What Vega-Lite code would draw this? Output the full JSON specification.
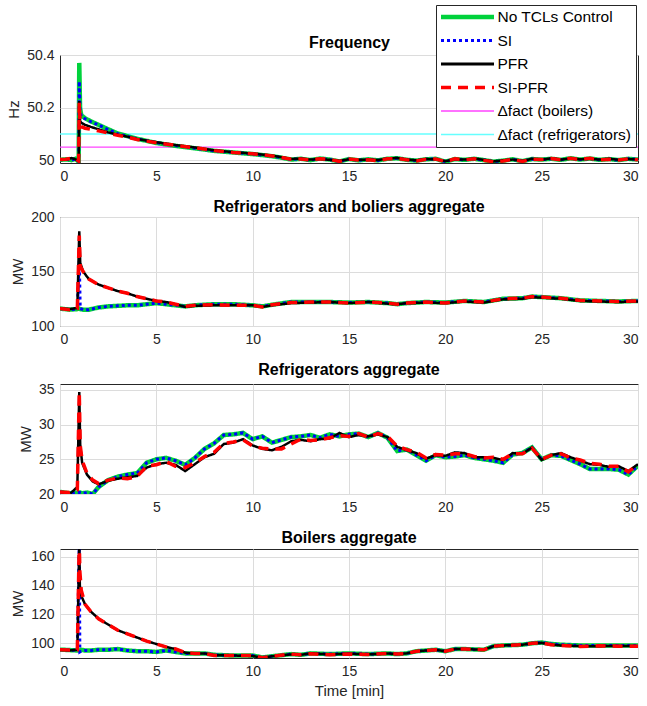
{
"$schema": "https://vega.github.io/schema/vega-lite/v6.json",
"padding": {"left": 6, "top": 4, "right": 2, "bottom": 4},
"background": "white",
"config": {
  "font": "Liberation Sans",
  "view": {"stroke": "#262626", "strokeWidth": 1},
  "axis": {"labelFontSize": 14, "labelColor": "#262626", "titleFontSize": 15, "titleFontWeight": "normal", "titleColor": "#262626", "gridColor": "#dcdcdc", "domain": false, "ticks": false, "labelPadding": 6, "titlePadding": 5, "labelFont": "Liberation Sans", "titleFont": "Liberation Sans"},
  "title": {"fontSize": 16, "fontWeight": "bold", "color": "#000", "font": "Liberation Sans"},
  "concat": {"spacing": 14}
},
"datasets": {
"d": [
{"p":1,"t":0,"g":50.002,"b":50.002,"k":50.004,"r":50.003},
{"p":1,"t":0.3,"g":50.004,"b":50.004,"k":50.003,"r":50.004},
{"p":1,"t":0.6,"g":50.001,"b":50.001,"k":50.009,"r":50.008},
{"p":1,"t":0.8,"g":50.006,"b":50.006,"k":50.004,"r":50.006},
{"p":1,"t":0.97,"g":49.995,"b":49.996,"k":49.997,"r":49.997},
{"p":1,"t":1.0,"g":50.37,"b":50.3,"k":50.225,"r":50.22},
{"p":1,"t":1.04,"g":50.2,"b":50.19,"k":50.15,"r":50.135},
{"p":1,"t":1.1,"g":50.172,"b":50.168,"k":50.143,"r":50.128},
{"p":1,"t":1.3,"g":50.16,"b":50.158,"k":50.135,"r":50.122},
{"p":1,"t":1.6,"g":50.148,"b":50.147,"k":50.127,"r":50.118},
{"p":1,"t":2,"g":50.135,"b":50.134,"k":50.118,"r":50.112},
{"p":1,"t":2.5,"g":50.118,"b":50.117,"k":50.106,"r":50.104},
{"p":1,"t":3,"g":50.102,"b":50.101,"k":50.097,"r":50.095},
{"p":1,"t":3.5,"g":50.092,"b":50.091,"k":50.09,"r":50.088},
{"p":1,"t":4,"g":50.082,"b":50.082,"k":50.081,"r":50.079},
{"p":1,"t":5,"g":50.066,"b":50.067,"k":50.069,"r":50.067},
{"p":1,"t":6,"g":50.055,"b":50.056,"k":50.058,"r":50.057},
{"p":1,"t":7,"g":50.046,"b":50.046,"k":50.049,"r":50.048},
{"p":1,"t":8,"g":50.036,"b":50.036,"k":50.038,"r":50.037},
{"p":1,"t":9,"g":50.03,"b":50.03,"k":50.031,"r":50.03},
{"p":1,"t":10,"g":50.024,"b":50.024,"k":50.026,"r":50.025},
{"p":1,"t":11,"g":50.016,"b":50.016,"k":50.018,"r":50.017},
{"p":1,"t":11.5,"g":50.01,"b":50.01,"k":50.012,"r":50.011},
{"p":1,"t":12,"g":50.003,"b":50.003,"k":50.005,"r":50.004},
{"p":1,"t":12.5,"g":50.006,"b":50.006,"k":50.007,"r":50.005},
{"p":1,"t":13,"g":50.001,"b":50.001,"k":50.003,"r":50.002},
{"p":1,"t":13.5,"g":50.007,"b":50.007,"k":50.005,"r":50.006},
{"p":1,"t":14,"g":50.003,"b":50.003,"k":50.002,"r":50.004},
{"p":1,"t":14.5,"g":49.996,"b":49.996,"k":49.998,"r":49.996},
{"p":1,"t":15,"g":50.005,"b":50.005,"k":50.004,"r":50.005},
{"p":1,"t":15.5,"g":50.0,"b":50.0,"k":50.002,"r":50.001},
{"p":1,"t":16,"g":50.004,"b":50.004,"k":50.003,"r":50.002},
{"p":1,"t":16.5,"g":50.0,"b":50.0,"k":50.001,"r":49.999},
{"p":1,"t":17,"g":50.006,"b":50.006,"k":50.007,"r":50.006},
{"p":1,"t":17.5,"g":50.008,"b":50.008,"k":50.009,"r":50.007},
{"p":1,"t":18,"g":50.002,"b":50.002,"k":50.003,"r":50.002},
{"p":1,"t":18.5,"g":49.999,"b":49.999,"k":50.0,"r":49.998},
{"p":1,"t":19,"g":50.004,"b":50.004,"k":50.005,"r":50.004},
{"p":1,"t":19.5,"g":50.006,"b":50.006,"k":50.004,"r":50.005},
{"p":1,"t":20,"g":49.995,"b":49.995,"k":49.997,"r":49.996},
{"p":1,"t":20.5,"g":50.005,"b":50.005,"k":50.004,"r":50.006},
{"p":1,"t":21,"g":50.002,"b":50.002,"k":50.003,"r":50.002},
{"p":1,"t":21.5,"g":50.006,"b":50.006,"k":50.007,"r":50.006},
{"p":1,"t":22,"g":50.001,"b":50.001,"k":50.002,"r":50.0},
{"p":1,"t":22.5,"g":49.995,"b":49.995,"k":49.996,"r":49.995},
{"p":1,"t":23,"g":49.999,"b":49.999,"k":50.0,"r":49.998},
{"p":1,"t":23.5,"g":50.004,"b":50.004,"k":50.003,"r":50.004},
{"p":1,"t":24,"g":49.997,"b":49.997,"k":49.998,"r":49.996},
{"p":1,"t":24.5,"g":50.005,"b":50.005,"k":50.006,"r":50.005},
{"p":1,"t":25,"g":50.003,"b":50.003,"k":50.002,"r":50.003},
{"p":1,"t":25.5,"g":50.006,"b":50.006,"k":50.008,"r":50.007},
{"p":1,"t":26,"g":50.002,"b":50.002,"k":50.003,"r":50.002},
{"p":1,"t":26.5,"g":50.008,"b":50.008,"k":50.007,"r":50.008},
{"p":1,"t":27,"g":50.003,"b":50.003,"k":50.004,"r":50.003},
{"p":1,"t":27.5,"g":50.007,"b":50.007,"k":50.006,"r":50.008},
{"p":1,"t":28,"g":50.002,"b":50.002,"k":50.003,"r":50.002},
{"p":1,"t":28.5,"g":50.005,"b":50.005,"k":50.006,"r":50.004},
{"p":1,"t":29,"g":50.001,"b":50.001,"k":50.002,"r":50.001},
{"p":1,"t":29.5,"g":50.006,"b":50.006,"k":50.005,"r":50.006},
{"p":1,"t":30,"g":50.003,"b":50.003,"k":50.003,"r":50.002},

{"p":2,"t":0,"g":116,"b":116,"k":116,"r":116},
{"p":2,"t":0.5,"g":115,"b":115,"k":115.5,"r":115},
{"p":2,"t":0.9,"g":115.5,"b":115.5,"k":116.5,"r":116},
{"p":2,"t":1.0,"g":116,"b":160,"k":187,"r":183},
{"p":2,"t":1.05,"g":115.5,"b":116,"k":158,"r":155},
{"p":2,"t":1.2,"g":115,"b":115,"k":150,"r":150},
{"p":2,"t":1.5,"g":115,"b":115,"k":143,"r":143},
{"p":2,"t":2,"g":117,"b":117,"k":138,"r":138},
{"p":2,"t":2.5,"g":118,"b":118,"k":135,"r":135},
{"p":2,"t":3,"g":118.5,"b":118.5,"k":132,"r":132},
{"p":2,"t":3.5,"g":119,"b":119,"k":130,"r":130},
{"p":2,"t":4,"g":119,"b":119,"k":127,"r":127},
{"p":2,"t":4.5,"g":120,"b":120,"k":125,"r":125},
{"p":2,"t":5,"g":121,"b":121,"k":123,"r":123},
{"p":2,"t":5.5,"g":120,"b":120,"k":122,"r":122},
{"p":2,"t":6,"g":119,"b":119,"k":120,"r":120},
{"p":2,"t":6.5,"g":118,"b":118,"k":117.5,"r":118},
{"p":2,"t":7,"g":119,"b":119,"k":118.5,"r":119},
{"p":2,"t":8,"g":120,"b":120,"k":119,"r":119.5},
{"p":2,"t":9,"g":120,"b":120,"k":119,"r":119},
{"p":2,"t":10,"g":119,"b":119,"k":119,"r":119},
{"p":2,"t":10.5,"g":118,"b":118,"k":117.5,"r":117.5},
{"p":2,"t":11,"g":119.5,"b":119.5,"k":119,"r":119.5},
{"p":2,"t":12,"g":122,"b":122,"k":121,"r":121.5},
{"p":2,"t":13,"g":122,"b":122,"k":121.5,"r":122},
{"p":2,"t":14,"g":122,"b":122,"k":122,"r":122},
{"p":2,"t":15,"g":121.5,"b":121.5,"k":121,"r":121},
{"p":2,"t":16,"g":122,"b":122,"k":122,"r":122},
{"p":2,"t":17,"g":121,"b":121,"k":120.5,"r":121},
{"p":2,"t":17.5,"g":120,"b":120,"k":120,"r":120},
{"p":2,"t":18,"g":121,"b":121,"k":121,"r":121},
{"p":2,"t":19,"g":122,"b":122,"k":121.5,"r":122},
{"p":2,"t":20,"g":121.5,"b":121.5,"k":121,"r":121},
{"p":2,"t":21,"g":123,"b":123,"k":122.5,"r":123},
{"p":2,"t":22,"g":122,"b":122,"k":121.5,"r":122},
{"p":2,"t":23,"g":125,"b":125,"k":124.5,"r":125},
{"p":2,"t":24,"g":125.5,"b":125.5,"k":125,"r":125.5},
{"p":2,"t":24.5,"g":127,"b":127,"k":126.5,"r":127},
{"p":2,"t":25,"g":126.5,"b":126.5,"k":126,"r":126.5},
{"p":2,"t":26,"g":125.5,"b":125.5,"k":125,"r":125.5},
{"p":2,"t":27,"g":123.5,"b":123.5,"k":123,"r":123.5},
{"p":2,"t":28,"g":123,"b":123,"k":122.5,"r":123},
{"p":2,"t":29,"g":122.5,"b":122.5,"k":122,"r":122.5},
{"p":2,"t":30,"g":123,"b":123,"k":122.5,"r":123},

{"p":3,"t":0,"g":20.3,"b":20.3,"k":20.3,"r":20.3},
{"p":3,"t":0.5,"g":20.1,"b":20.1,"k":20.0,"r":20.2},
{"p":3,"t":0.9,"g":20.2,"b":20.2,"k":21.0,"r":20.6},
{"p":3,"t":1.0,"g":20.2,"b":20.2,"k":34.7,"r":34.7},
{"p":3,"t":1.05,"g":20.2,"b":20.2,"k":27,"r":27},
{"p":3,"t":1.15,"g":20.1,"b":20.1,"k":24.5,"r":24.8},
{"p":3,"t":1.4,"g":20.2,"b":20.2,"k":22.8,"r":23.0},
{"p":3,"t":1.7,"g":20.0,"b":20.0,"k":21.8,"r":22.0},
{"p":3,"t":2,"g":21.0,"b":21.0,"k":21.4,"r":21.5},
{"p":3,"t":2.5,"g":22.0,"b":22.0,"k":21.9,"r":22.0},
{"p":3,"t":3,"g":22.5,"b":22.5,"k":22.2,"r":22.3},
{"p":3,"t":3.5,"g":22.8,"b":22.8,"k":22.4,"r":22.2},
{"p":3,"t":4,"g":23.0,"b":23.0,"k":22.6,"r":22.5},
{"p":3,"t":4.5,"g":24.5,"b":24.5,"k":23.8,"r":24.0},
{"p":3,"t":5,"g":25.0,"b":25.0,"k":24.3,"r":24.2},
{"p":3,"t":5.5,"g":25.2,"b":25.2,"k":24.5,"r":24.7},
{"p":3,"t":6,"g":24.8,"b":24.8,"k":24.2,"r":24.0},
{"p":3,"t":6.5,"g":24.2,"b":24.2,"k":23.3,"r":23.8},
{"p":3,"t":7,"g":25.2,"b":25.2,"k":24.3,"r":24.5},
{"p":3,"t":7.5,"g":26.5,"b":26.5,"k":25.3,"r":25.4},
{"p":3,"t":8,"g":27.3,"b":27.3,"k":25.8,"r":26.0},
{"p":3,"t":8.5,"g":28.5,"b":28.5,"k":27.2,"r":27.3},
{"p":3,"t":9,"g":28.6,"b":28.6,"k":27.4,"r":27.5},
{"p":3,"t":9.5,"g":28.8,"b":28.8,"k":27.9,"r":27.8},
{"p":3,"t":10,"g":27.9,"b":27.9,"k":27.0,"r":26.9},
{"p":3,"t":10.5,"g":28.3,"b":28.3,"k":26.5,"r":26.6},
{"p":3,"t":11,"g":27.4,"b":27.4,"k":26.3,"r":26.5},
{"p":3,"t":11.5,"g":27.8,"b":27.8,"k":26.8,"r":26.5},
{"p":3,"t":12,"g":28.2,"b":28.2,"k":27.6,"r":27.2},
{"p":3,"t":12.5,"g":28.3,"b":28.3,"k":27.8,"r":27.9},
{"p":3,"t":13,"g":28.5,"b":28.5,"k":27.6,"r":27.7},
{"p":3,"t":13.5,"g":28.1,"b":28.1,"k":27.9,"r":27.8},
{"p":3,"t":14,"g":28.6,"b":28.6,"k":28.0,"r":28.1},
{"p":3,"t":14.5,"g":28.3,"b":28.3,"k":28.8,"r":28.4},
{"p":3,"t":15,"g":28.6,"b":28.6,"k":28.2,"r":28.3},
{"p":3,"t":15.5,"g":28.7,"b":28.7,"k":28.5,"r":28.7},
{"p":3,"t":16,"g":28.2,"b":28.2,"k":28.3,"r":28.2},
{"p":3,"t":16.5,"g":28.8,"b":28.8,"k":28.6,"r":28.7},
{"p":3,"t":17,"g":28.1,"b":28.1,"k":28.2,"r":28.3},
{"p":3,"t":17.5,"g":26.2,"b":26.2,"k":26.8,"r":26.9},
{"p":3,"t":18,"g":26.4,"b":26.4,"k":26.3,"r":26.4},
{"p":3,"t":18.5,"g":25.6,"b":25.6,"k":25.9,"r":26.0},
{"p":3,"t":19,"g":24.8,"b":24.8,"k":25.1,"r":25.2},
{"p":3,"t":19.5,"g":25.6,"b":25.6,"k":25.6,"r":25.7},
{"p":3,"t":20,"g":25.3,"b":25.3,"k":25.5,"r":25.6},
{"p":3,"t":20.5,"g":25.4,"b":25.4,"k":26.0,"r":25.8},
{"p":3,"t":21,"g":25.6,"b":25.6,"k":25.9,"r":25.8},
{"p":3,"t":21.5,"g":25.2,"b":25.2,"k":25.3,"r":25.4},
{"p":3,"t":22,"g":25.0,"b":25.0,"k":25.3,"r":25.2},
{"p":3,"t":22.5,"g":24.8,"b":24.8,"k":25.2,"r":25.3},
{"p":3,"t":23,"g":24.5,"b":24.5,"k":24.9,"r":25.0},
{"p":3,"t":23.5,"g":25.7,"b":25.7,"k":25.9,"r":25.8},
{"p":3,"t":24,"g":25.9,"b":25.9,"k":25.8,"r":25.8},
{"p":3,"t":24.5,"g":26.7,"b":26.7,"k":26.7,"r":26.6},
{"p":3,"t":25,"g":25.0,"b":25.0,"k":24.9,"r":25.0},
{"p":3,"t":25.5,"g":25.6,"b":25.6,"k":25.6,"r":25.6},
{"p":3,"t":26,"g":25.5,"b":25.5,"k":25.9,"r":25.8},
{"p":3,"t":26.5,"g":24.9,"b":24.9,"k":25.3,"r":25.2},
{"p":3,"t":27,"g":24.3,"b":24.3,"k":24.8,"r":24.9},
{"p":3,"t":27.5,"g":23.6,"b":23.6,"k":24.3,"r":24.4},
{"p":3,"t":28,"g":23.6,"b":23.6,"k":24.2,"r":24.3},
{"p":3,"t":28.5,"g":23.6,"b":23.6,"k":23.9,"r":24.0},
{"p":3,"t":29,"g":23.5,"b":23.5,"k":24.0,"r":24.0},
{"p":3,"t":29.5,"g":22.8,"b":22.8,"k":23.3,"r":23.2},
{"p":3,"t":30,"g":24.1,"b":24.1,"k":24.3,"r":24.3},

{"p":4,"t":0,"g":95.6,"b":95.6,"k":95.6,"r":95.6},
{"p":4,"t":0.5,"g":95.3,"b":95.3,"k":95,"r":95.3},
{"p":4,"t":0.9,"g":95,"b":95,"k":95.5,"r":95.5},
{"p":4,"t":1.0,"g":95,"b":170,"k":170,"r":170},
{"p":4,"t":1.03,"g":95,"b":94,"k":140,"r":150},
{"p":4,"t":1.1,"g":95.5,"b":94.5,"k":133,"r":137},
{"p":4,"t":1.3,"g":95,"b":95,"k":127,"r":127},
{"p":4,"t":1.6,"g":95,"b":95,"k":122,"r":122},
{"p":4,"t":2,"g":95.5,"b":95.5,"k":117,"r":117},
{"p":4,"t":2.5,"g":95.5,"b":95.5,"k":113,"r":113},
{"p":4,"t":3,"g":96,"b":96,"k":109,"r":109},
{"p":4,"t":3.5,"g":95,"b":95,"k":106.5,"r":106.5},
{"p":4,"t":4,"g":94.5,"b":94.5,"k":104,"r":104},
{"p":4,"t":4.5,"g":94.5,"b":94.5,"k":101.5,"r":101.5},
{"p":4,"t":5,"g":94,"b":94,"k":99.5,"r":99.5},
{"p":4,"t":5.5,"g":95,"b":95,"k":97.5,"r":97.5},
{"p":4,"t":6,"g":94,"b":94,"k":96,"r":96},
{"p":4,"t":6.5,"g":93,"b":93,"k":93.5,"r":93.5},
{"p":4,"t":7,"g":93,"b":93,"k":92.8,"r":93},
{"p":4,"t":7.5,"g":93,"b":93,"k":93,"r":93},
{"p":4,"t":8,"g":92,"b":92,"k":91.8,"r":91.5},
{"p":4,"t":9,"g":91.5,"b":91.5,"k":91.5,"r":91.5},
{"p":4,"t":10,"g":91.5,"b":91.5,"k":91.2,"r":91.5},
{"p":4,"t":10.5,"g":90.2,"b":90.2,"k":90,"r":90},
{"p":4,"t":11,"g":91,"b":91,"k":91,"r":91},
{"p":4,"t":12,"g":92.5,"b":92.5,"k":92.3,"r":92.5},
{"p":4,"t":12.5,"g":92,"b":92,"k":92,"r":92},
{"p":4,"t":13,"g":93,"b":93,"k":93,"r":92.8},
{"p":4,"t":14,"g":92.5,"b":92.5,"k":92.3,"r":92},
{"p":4,"t":15,"g":93,"b":93,"k":92.8,"r":92.5},
{"p":4,"t":16,"g":92.5,"b":92.5,"k":92.3,"r":92.3},
{"p":4,"t":17,"g":93,"b":93,"k":93,"r":93},
{"p":4,"t":17.5,"g":92.5,"b":92.5,"k":92.5,"r":92.5},
{"p":4,"t":18,"g":93,"b":93,"k":93,"r":93},
{"p":4,"t":18.5,"g":94.5,"b":94.5,"k":94.5,"r":94.5},
{"p":4,"t":19,"g":95,"b":95,"k":95,"r":95},
{"p":4,"t":19.5,"g":95.5,"b":95.5,"k":95.5,"r":95.5},
{"p":4,"t":20,"g":94.5,"b":94.5,"k":94.5,"r":94.5},
{"p":4,"t":20.5,"g":96,"b":96,"k":96,"r":96},
{"p":4,"t":21,"g":96,"b":96,"k":96,"r":96},
{"p":4,"t":22,"g":95.5,"b":95.5,"k":95.5,"r":95.5},
{"p":4,"t":22.5,"g":98,"b":98,"k":98,"r":98},
{"p":4,"t":23,"g":98.5,"b":98.5,"k":98.5,"r":98.5},
{"p":4,"t":24,"g":99,"b":99,"k":99,"r":99},
{"p":4,"t":24.5,"g":100,"b":100,"k":100,"r":100},
{"p":4,"t":25,"g":100.5,"b":100.5,"k":100.3,"r":100.3},
{"p":4,"t":25.5,"g":99.5,"b":99.5,"k":99,"r":99},
{"p":4,"t":26,"g":99,"b":99,"k":98.5,"r":98.5},
{"p":4,"t":27,"g":98.5,"b":98.5,"k":98,"r":97.8},
{"p":4,"t":27.5,"g":98.5,"b":98.5,"k":98,"r":98},
{"p":4,"t":28,"g":98.5,"b":98.5,"k":98,"r":98.2},
{"p":4,"t":29,"g":98.5,"b":98.5,"k":98.2,"r":98},
{"p":4,"t":30,"g":98.5,"b":98.5,"k":98,"r":98}
],
"h": [
{"s":"m","t":0,"v":50.05},{"s":"m","t":30,"v":50.05},
{"s":"c","t":0,"v":50.1},{"s":"c","t":30,"v":50.1}
]
},
"vconcat": [
{
 "width": 578, "height": 108,
 "layer": [
  {
   "data": {"name": "h"},
   "mark": {"type": "line", "clip": true},
   "encoding": {
    "x": {"field": "t", "type": "quantitative", "scale": {"domain": [0, 30], "nice": false}, "axis": {"orient": "top", "labels": false, "grid": false, "title": "Frequency", "titleFontSize": 16, "titleFontWeight": "bold", "titleColor": "#000", "titlePadding": 4.5}},
    "y": {"field": "v", "type": "quantitative", "scale": {"domain": [49.99, 50.4], "nice": false, "zero": false}, "axis": {"values": [50, 50.2, 50.4], "format": "~g", "title": "Hz"}},
    "color": {"field": "s", "type": "nominal", "scale": {"domain": ["g","b","k","r","m","c"], "range": ["#00D23C","#0000FF","#000000","#FF0000","#FF44FF","#66FFFF"]},
      "legend": {"orient": "none", "legendX": 376, "legendY": -50, "title": null, "symbolType": "stroke", "symbolSize": 2809, "clipHeight": 16, "rowPadding": 6.5, "padding": 4, "labelFontSize": 15.5, "labelColor": "#000", "labelFont": "Liberation Sans", "fillColor": "white", "strokeColor": "#262626", "labelOffset": 2.5,
        "labelExpr": "datum.label=='g'?'No TCLs Control':datum.label=='b'?'SI':datum.label=='k'?'PFR':datum.label=='r'?'SI-PFR':datum.label=='m'?'Δfact (boilers)':'Δfact (refrigerators)'",
        "encode": {"symbols": {"update": {"strokeWidth": {"signal": "(datum.value=='g'?4.5:datum.value=='b'?3:datum.value=='r'?3.5:datum.value=='k'?2.8:1.4)"}}}}}},
    "strokeDash": {"field": "s", "type": "nominal", "scale": {"domain": ["g","b","k","r","m","c"], "range": [[1,0],[3,3],[1,0],[10,7],[1,0],[1,0]]},
      "legend": {"orient": "none", "legendX": 376, "legendY": -50, "title": null, "symbolType": "stroke", "symbolSize": 2809, "clipHeight": 16, "rowPadding": 6.5, "padding": 4, "labelFontSize": 15.5, "labelColor": "#000", "labelFont": "Liberation Sans", "fillColor": "white", "strokeColor": "#262626", "labelOffset": 2.5,
        "labelExpr": "datum.label=='g'?'No TCLs Control':datum.label=='b'?'SI':datum.label=='k'?'PFR':datum.label=='r'?'SI-PFR':datum.label=='m'?'Δfact (boilers)':'Δfact (refrigerators)'",
        "encode": {"symbols": {"update": {"strokeWidth": {"signal": "(datum.value=='g'?4.5:datum.value=='b'?3:datum.value=='r'?3.5:datum.value=='k'?2.8:1.4)"}}}}}},
    "strokeWidth": {"condition": [{"test": "datum.s=='g'", "value": 4.5}, {"test": "datum.s=='b'", "value": 3}, {"test": "datum.s=='r'", "value": 3.5}, {"test": "datum.s=='k'", "value": 2.5}], "value": 1.3}
   }
  },
  {
   "data": {"name": "d"},
   "transform": [{"filter": "datum.p==1"}, {"fold": ["g","b","k","r"], "as": ["s","v"]}],
   "mark": {"type": "line", "clip": true},
   "encoding": {
    "x": {"field": "t", "type": "quantitative", "axis": {"values": [0,5,10,15,20,25,30], "title": null}},
    "y": {"field": "v", "type": "quantitative"},
    "color": {"field": "s", "type": "nominal"},
    "strokeDash": {"field": "s", "type": "nominal"},
    "strokeWidth": {"condition": [{"test": "datum.s=='g'", "value": 4.5}, {"test": "datum.s=='b'", "value": 3}, {"test": "datum.s=='r'", "value": 3.5}, {"test": "datum.s=='k'", "value": 2.5}], "value": 1.3}
   }
  }
 ],
 "resolve": {"axis": {"x": "independent"}}
},
{
 "width": 578, "height": 109,
 "title": {"text": "Refrigerators and boliers aggregate", "offset": -5},
 "data": {"name": "d"},
 "transform": [{"filter": "datum.p==2"}, {"fold": ["g","b","k","r"], "as": ["s","v"]}],
 "mark": {"type": "line", "clip": true},
 "encoding": {
  "x": {"field": "t", "type": "quantitative", "scale": {"domain": [0, 30], "nice": false}, "axis": {"values": [0,5,10,15,20,25,30], "title": null}},
  "y": {"field": "v", "type": "quantitative", "scale": {"domain": [100, 200], "nice": false, "zero": false}, "axis": {"values": [100, 150, 200], "title": "MW"}},
  "color": {"field": "s", "type": "nominal", "scale": {"domain": ["g","b","k","r","m","c"], "range": ["#00D23C","#0000FF","#000000","#FF0000","#FF44FF","#66FFFF"]}, "legend": null},
  "strokeDash": {"field": "s", "type": "nominal", "scale": {"domain": ["g","b","k","r","m","c"], "range": [[1,0],[3,3],[1,0],[10,7],[1,0],[1,0]]}, "legend": null},
  "strokeWidth": {"condition": [{"test": "datum.s=='g'", "value": 4.5}, {"test": "datum.s=='b'", "value": 3}, {"test": "datum.s=='r'", "value": 3.5}, {"test": "datum.s=='k'", "value": 2.5}], "value": 1.3}
 }
},
{
 "width": 578, "height": 110,
 "title": {"text": "Refrigerators aggregate", "offset": 5},
 "data": {"name": "d"},
 "transform": [{"filter": "datum.p==3"}, {"fold": ["g","b","k","r"], "as": ["s","v"]}],
 "mark": {"type": "line", "clip": true},
 "encoding": {
  "x": {"field": "t", "type": "quantitative", "scale": {"domain": [0, 30], "nice": false}, "axis": {"values": [0,5,10,15,20,25,30], "title": null}},
  "y": {"field": "v", "type": "quantitative", "scale": {"domain": [20, 35.85], "nice": false, "zero": false}, "axis": {"values": [20, 25, 30, 35], "title": "MW"}},
  "color": {"field": "s", "type": "nominal", "scale": {"domain": ["g","b","k","r","m","c"], "range": ["#00D23C","#0000FF","#000000","#FF0000","#FF44FF","#66FFFF"]}, "legend": null},
  "strokeDash": {"field": "s", "type": "nominal", "scale": {"domain": ["g","b","k","r","m","c"], "range": [[1,0],[3,3],[1,0],[10,7],[1,0],[1,0]]}, "legend": null},
  "strokeWidth": {"condition": [{"test": "datum.s=='g'", "value": 4.5}, {"test": "datum.s=='b'", "value": 3}, {"test": "datum.s=='r'", "value": 3.5}, {"test": "datum.s=='k'", "value": 2.5}], "value": 1.3}
 }
},
{
 "width": 578, "height": 109,
 "title": {"text": "Boilers aggregate", "offset": 3},
 "data": {"name": "d"},
 "transform": [{"filter": "datum.p==4"}, {"fold": ["g","b","k","r"], "as": ["s","v"]}],
 "mark": {"type": "line", "clip": true},
 "encoding": {
  "x": {"field": "t", "type": "quantitative", "scale": {"domain": [0, 30], "nice": false}, "axis": {"values": [0,5,10,15,20,25,30], "title": "Time [min]"}},
  "y": {"field": "v", "type": "quantitative", "scale": {"domain": [89.8, 165.3], "nice": false, "zero": false}, "axis": {"values": [100, 120, 140, 160], "title": "MW"}},
  "color": {"field": "s", "type": "nominal", "scale": {"domain": ["g","b","k","r","m","c"], "range": ["#00D23C","#0000FF","#000000","#FF0000","#FF44FF","#66FFFF"]}, "legend": null},
  "strokeDash": {"field": "s", "type": "nominal", "scale": {"domain": ["g","b","k","r","m","c"], "range": [[1,0],[3,3],[1,0],[10,7],[1,0],[1,0]]}, "legend": null},
  "strokeWidth": {"condition": [{"test": "datum.s=='g'", "value": 4.5}, {"test": "datum.s=='b'", "value": 3}, {"test": "datum.s=='r'", "value": 3.5}, {"test": "datum.s=='k'", "value": 2.5}], "value": 1.3}
 }
}
],
"resolve": {
 "scale": {"color": "independent", "strokeDash": "independent"},
 "legend": {"color": "independent", "strokeDash": "independent"}
}
}
